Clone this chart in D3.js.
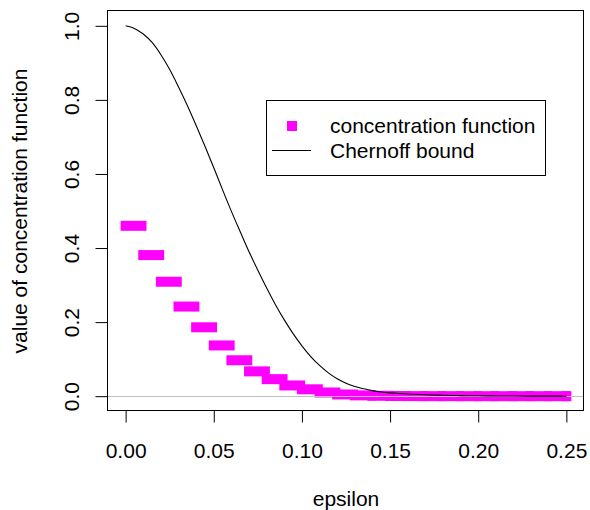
<!DOCTYPE html>
<html>
<head>
<meta charset="utf-8">
<script src="https://cdn.jsdelivr.net/npm/d3@7"></script>
<style>
  html, body { margin: 0; padding: 0; background: #fff; }
  svg { display: block; }
  text { font-family: "Liberation Sans", Arial, Helvetica, sans-serif; fill: #000; }
</style>
</head>
<body>
<svg id="chart" width="590" height="510"></svg>
<script>
// ---- data ----
const stepFrom = [0.00, 0.01, 0.02, 0.03, 0.04, 0.05, 0.06, 0.07, 0.08, 0.09, 0.10, 0.11, 0.12, 0.13, 0.14, 0.15, 0.16, 0.17, 0.18, 0.19, 0.20, 0.21, 0.22, 0.23, 0.24, 0.25];
const stepTo   = [0.009, 0.019, 0.029, 0.039, 0.049, 0.059, 0.069, 0.079, 0.089, 0.099, 0.109, 0.119, 0.129, 0.139, 0.149, 0.159, 0.169, 0.179, 0.189, 0.199, 0.209, 0.219, 0.229, 0.239, 0.249, 0.25];
const concValues = [0.460, 0.381, 0.309, 0.242, 0.186, 0.137, 0.097, 0.067, 0.046, 0.029, 0.0186, 0.010, 0.0046, 0.0022, 0.0011, 0.0005, 0.0002, 0.0001, 0.0001, 0, 0, 0, 0, 0, 0, 0];

const chernoffEps = [0, 0.005, 0.01, 0.015, 0.02, 0.025, 0.03, 0.035, 0.04, 0.045, 0.05, 0.055, 0.06, 0.065, 0.07, 0.075, 0.08, 0.085, 0.09, 0.095, 0.10, 0.105, 0.11, 0.115, 0.12, 0.125, 0.13, 0.135, 0.14, 0.145, 0.15, 0.155, 0.16, 0.17, 0.18, 0.19, 0.20, 0.21, 0.22, 0.23, 0.24, 0.25];
const chernoffValues = [1.000, 0.993, 0.978, 0.955, 0.922, 0.882, 0.835, 0.785, 0.731, 0.675, 0.617, 0.557, 0.499, 0.444, 0.390, 0.340, 0.292, 0.247, 0.206, 0.169, 0.136, 0.107, 0.083, 0.063, 0.047, 0.035, 0.026, 0.020, 0.0150, 0.0115, 0.0090, 0.0074, 0.0060, 0.0040, 0.0026, 0.0016, 0.0010, 0.0006, 0.0004, 0.0002, 0.0001, 0.0000];

const xTicks = [0, 0.05, 0.10, 0.15, 0.20, 0.25];
const xTickLabels = ["0.00", "0.05", "0.10", "0.15", "0.20", "0.25"];
const yTicks = [0, 0.2, 0.4, 0.6, 0.8, 1.0];
const yTickLabels = ["0.0", "0.2", "0.4", "0.6", "0.8", "1.0"];
const legendLabels = ["concentration function", "Chernoff bound"];
const xTitle = "epsilon";
const yTitle = "value of concentration function";

// ---- layout ----
const svg = d3.select("#chart");
const L = 108, R = 584, T = 11, B = 411;
const x = d3.scaleLinear().domain([-0.01, 0.26]).range([L, R]);
const y = d3.scaleLinear().domain([-0.04, 1.04]).range([B, T]);
const FS = 21;

svg.append("rect").attr("width", 590).attr("height", 510).attr("fill", "#fff");

// concentration function bars (overlapping filled squares form bars)
const half = 5;
const steps = concValues.map((v, i) => ({ a: stepFrom[i], b: stepTo[i], v }));
svg.append("g").selectAll("rect").data(steps).join("rect")
  .attr("x", d => x(d.a) - half)
  .attr("y", d => y(d.v) - half)
  .attr("width", d => x(d.b) - x(d.a) + 2 * half)
  .attr("height", 2 * half)
  .attr("fill", "#ff00ff");

// zero reference line
svg.append("line")
  .attr("x1", L).attr("x2", R)
  .attr("y1", Math.round(y(0)) + 0.5).attr("y2", Math.round(y(0)) + 0.5)
  .attr("stroke", "#bebebe").attr("stroke-width", 1);

// Chernoff bound
const pts = chernoffEps.map((e, i) => [e, chernoffValues[i]]);
svg.append("path")
  .datum(pts)
  .attr("fill", "none").attr("stroke", "#000").attr("stroke-width", 1.1)
  .attr("d", d3.line().x(d => x(d[0])).y(d => y(d[1])).curve(d3.curveMonotoneX));

// plot box
svg.append("rect")
  .attr("x", L - 0.5).attr("y", T - 0.5)
  .attr("width", R - L).attr("height", B - T)
  .attr("fill", "none").attr("stroke", "#000").attr("stroke-width", 1);

// x axis
const gx = svg.append("g").attr("transform", `translate(0,${B - 0.5})`)
  .call(d3.axisBottom(x).tickValues(xTicks).tickFormat((d, i) => xTickLabels[i]).tickSize(12).tickSizeOuter(0));
gx.select(".domain").remove();
gx.append("line").attr("x1", x(xTicks[0])).attr("x2", x(xTicks[xTicks.length - 1])).attr("stroke", "#000");
gx.selectAll(".tick line").attr("stroke", "#000");
gx.selectAll(".tick text")
  .attr("y", 458 - (B - 0.5)).attr("dy", null)
  .attr("font-size", FS).attr("font-family", null).attr("fill", "#000");

// y axis
const gy = svg.append("g").attr("transform", `translate(${L - 0.5},0)`)
  .call(d3.axisLeft(y).tickValues(yTicks).tickFormat((d, i) => yTickLabels[i]).tickSize(12).tickSizeOuter(0));
gy.select(".domain").remove();
gy.append("line").attr("y1", y(yTicks[0])).attr("y2", y(yTicks[yTicks.length - 1])).attr("stroke", "#000");
gy.selectAll(".tick line").attr("stroke", "#000");
gy.selectAll(".tick text")
  .attr("x", 0).attr("y", 78.5 - (L - 0.5)).attr("dy", null)
  .attr("transform", "rotate(-90)")
  .attr("text-anchor", "middle")
  .attr("font-size", FS).attr("font-family", null).attr("fill", "#000");

// axis titles
svg.append("text").attr("x", (L + R) / 2).attr("y", 506)
  .attr("text-anchor", "middle").attr("font-size", FS).text(xTitle);
svg.append("text")
  .attr("transform", `translate(27,${(T + B) / 2}) rotate(-90)`)
  .attr("text-anchor", "middle").attr("font-size", FS).text(yTitle);

// legend
const lg = svg.append("g");
lg.append("rect").attr("x", 266.5).attr("y", 100.5).attr("width", 279).attr("height", 75)
  .attr("fill", "#fff").attr("stroke", "#000").attr("stroke-width", 1);
lg.append("rect").attr("x", 287).attr("y", 121).attr("width", 10).attr("height", 10).attr("fill", "#ff00ff");
lg.append("line").attr("x1", 272).attr("x2", 311).attr("y1", 150.5).attr("y2", 150.5)
  .attr("stroke", "#000").attr("stroke-width", 1.1);
lg.append("text").attr("x", 330).attr("y", 133).attr("font-size", FS).text(legendLabels[0]);
lg.append("text").attr("x", 330).attr("y", 158).attr("font-size", FS).text(legendLabels[1]);
</script>
</body>
</html>
